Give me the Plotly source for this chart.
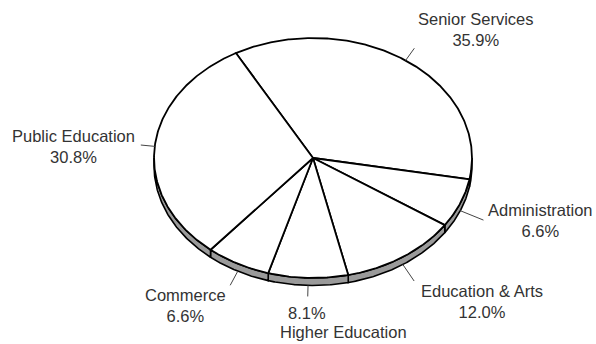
import numpy as np
import plotly.graph_objects as go

# Budget share by department (percent)
categories = ["Senior Services", "Administration", "Education & Arts",
              "Higher Education", "Commerce", "Public Education"]
shares = [35.9, 6.6, 12.0, 8.1, 6.6, 30.8]

# Tilted-disc geometry (pixel space of the 596x344 canvas)
CX, CY = 313.0, 158.0      # disc centre
RX, RY = 159.0, 120.0      # horizontal / vertical semi-axes
DEPTH = 7.5                # rim thickness
START = 119.0              # angle of first slice edge, degrees ccw from +x
EDGE = "#000000"
TOP_FILL = "#ffffff"
SIDE_FILL = "#9a9a9a"
TEXT = "#333333"
FONT = "Liberation Sans, Arial, sans-serif"

# label placement: centre of text block and leader length
label_pos = {
    "Senior Services": (476, 29.5),
    "Administration": (540, 220),
    "Education & Arts": (482, 301),
    "Commerce": (185, 305),
    "Public Education": (73, 146),
}
leader_len = [15, 25, 20, 11, 16, 14]


def ex(t):
    return CX + RX * np.cos(np.radians(t))


def ey(t, dz=0.0):
    return CY - RY * np.sin(np.radians(t)) + dz


fig = go.Figure()

# slice boundaries, going clockwise
total = sum(shares)
bounds = [START]
for v in shares:
    bounds.append(bounds[-1] - 360.0 * v / total)

# rim (visible only on the lower half of the disc)
for i in range(len(shares)):
    hi, lo = bounds[i], bounds[i + 1]
    a, b = max(lo, -180.0), min(hi, 0.0)
    if b <= a:
        continue
    t = np.linspace(a, b, 80)
    xs = np.concatenate([ex(t), ex(t[::-1])])
    ys = np.concatenate([ey(t), ey(t[::-1], DEPTH)])
    fig.add_trace(go.Scatter(x=np.append(xs, xs[0]), y=np.append(ys, ys[0]),
                             mode="lines", fill="toself", fillcolor=SIDE_FILL,
                             line=dict(color=EDGE, width=1.6),
                             hoverinfo="skip", showlegend=False))

# top faces of the slices
for i in range(len(shares)):
    hi, lo = bounds[i], bounds[i + 1]
    t = np.linspace(hi, lo, max(int((hi - lo) * 2), 8))
    xs = np.concatenate([[CX], ex(t), [CX]])
    ys = np.concatenate([[CY], ey(t), [CY]])
    fig.add_trace(go.Scatter(x=xs, y=ys, mode="lines", fill="toself",
                             fillcolor=TOP_FILL,
                             line=dict(color=EDGE, width=1.8),
                             hoverinfo="skip", showlegend=False))

# leader lines and labels
for i, (name, v) in enumerate(zip(categories, shares)):
    mid = (bounds[i] + bounds[i + 1]) / 2.0
    s = np.sin(np.radians(mid))
    x0 = ex(mid)
    y0 = ey(mid, DEPTH if s < 0 else 0.0)
    dx, dy = np.cos(np.radians(mid)), -s
    n = np.hypot(dx, dy)
    x1 = x0 + leader_len[i] * dx / n
    y1 = y0 + leader_len[i] * dy / n
    fig.add_trace(go.Scatter(x=[x0, x1], y=[y0, y1], mode="lines",
                             line=dict(color="#444444", width=1),
                             hoverinfo="skip", showlegend=False))
    pct = f"{v:.1f}%"
    if name in label_pos:
        lx, ly = label_pos[name]
        fig.add_annotation(x=lx, y=ly, text=f"{name}<br>{pct}",
                           showarrow=False, align="center",
                           xanchor="center", yanchor="middle")
    else:
        fig.add_annotation(x=307, y=312.7, text=pct, showarrow=False,
                           xanchor="center", yanchor="middle")
        fig.add_annotation(x=343, y=331.7, text=name, showarrow=False,
                           xanchor="center", yanchor="middle")

fig.update_annotations(font=dict(family=FONT, size=16.5, color=TEXT))

fig.update_layout(
    width=596, height=344, autosize=False,
    margin=dict(l=0, r=0, t=0, b=0),
    paper_bgcolor="#ffffff", plot_bgcolor="#ffffff",
    xaxis=dict(range=[0, 596], visible=False, fixedrange=True),
    yaxis=dict(range=[344, 0], visible=False, fixedrange=True),
    showlegend=False,
)

fig.write_html("out.html")
